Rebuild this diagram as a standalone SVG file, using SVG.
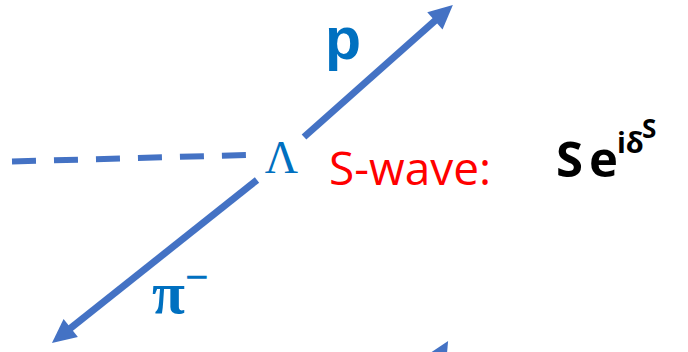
<svg xmlns="http://www.w3.org/2000/svg" width="688" height="352" viewBox="0 0 688 352">
<style>
.ln{stroke:#4472C4;stroke-width:7;fill:none}
.dash{stroke:#4472C4;stroke-width:6;fill:none;stroke-dasharray:24 18}
.blue{fill:#0070C0}
.sans{font-family:"Open Sans","Liberation Sans",sans-serif}
.serif{font-family:"Liberation Serif","DejaVu Serif",serif}
</style>
<defs>
<marker id="ah" markerUnits="userSpaceOnUse" markerWidth="24" markerHeight="23" refX="4" refY="11.5" orient="auto" overflow="visible">
<path d="M0,0 L24,11.5 L0,23 z" fill="#4472C4"/>
</marker>
</defs>
<g id="connectors">
<line class="dash" x1="12" y1="161.5" x2="246" y2="155"/>
<line class="ln" x1="304" y1="137" x2="437.9" y2="18.2" marker-end="url(#ah)"/>
<line class="ln" x1="257" y1="180" x2="67.6" y2="330.5" marker-end="url(#ah)"/>
<line class="ln" x1="422" y1="385" x2="437.9" y2="358.2" marker-end="url(#ah)"/>
</g>
<g id="lambda"><text class="serif blue" x="281.5" y="173" font-size="46" text-anchor="middle">Λ</text></g>
<g id="proton"><text class="blue" x="325" y="59" font-size="59" font-weight="700" font-family="'Liberation Sans',Arial,sans-serif">p</text></g>
<g id="pion"><text class="serif blue" x="152" y="313" font-size="60" font-weight="700">π<tspan font-size="42" dy="-22">−</tspan></text></g>
<g id="swave-label"><text class="sans" x="329" y="185" font-size="46" fill="#FF0000">S-wave:</text></g>
<g id="amplitude"><text class="sans" y="177" font-size="49" font-weight="700" fill="#000"><tspan x="556">S</tspan><tspan x="589">e</tspan></text><text class="sans" x="617" y="153" font-size="29" font-weight="700" fill="#000">iδ<tspan x="642" y="138" font-size="26">S</tspan></text></g>
</svg>
